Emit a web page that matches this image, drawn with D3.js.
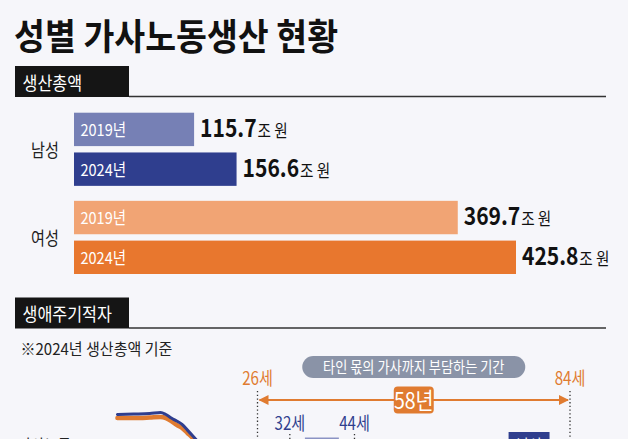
<!DOCTYPE html>
<html>
<head>
<meta charset="utf-8">
<script src="https://cdn.jsdelivr.net/npm/d3@7"></script>
<style>
  body { margin: 0; background: #f6f6fa; }
  text { font-family: "Noto Sans CJK KR", "Noto Sans", sans-serif; }
</style>
</head>
<body>
<svg id="chart"></svg>
<script>
// data
var genders = ["남성", "여성"];
var years = ["2019", "2024"];
var totals = {
    "남성": [115.7, 156.6],
    "여성": [369.7, 425.8]
};
var barColors = {
    "남성": ["#7680b5", "#2f3e8e"],
    "여성": ["#f1a474", "#e8772e"]
};
var ageRange = [26, 84];
var ageMarks = [32, 44];
var curveAges = [0, 3, 6, 8, 9, 10, 11, 12, 13, 14, 15];
var maleDeficit = [98.6, 99.0, 99.5, 100.5, 98.6, 95.3, 92.5, 89.3, 84.0, 78.5, 72.9];
var femaleDeficit = [95.3, 95.3, 95.8, 96.3, 95.3, 92.5, 88.8, 86.0, 81.3, 76.6, 71.0];

var width = 628, height = 439;
var svg = d3.select("#chart").attr("width", width).attr("height", height);

svg.append("rect").attr("width", width).attr("height", height).attr("fill", "#f6f6fa");

// text helper -- the source font is narrow, so squeeze horizontally
function label(sel, x, y, str, size, weight, fill, sx, anchor) {
    return sel.append("text")
        .attr("transform", "translate(" + x + "," + y + ") scale(" + sx + ",1)")
        .attr("font-size", size)
        .attr("font-weight", weight)
        .attr("fill", fill)
        .attr("text-anchor", anchor || "start")
        .text(str);
}

// title
label(svg, 14, 50, "성별 가사노동생산 현황", 36.5, 700, "#111", 0.92);

// section headers
function section(y, name) {
    svg.append("rect").attr("x", 15).attr("y", y).attr("width", 114).attr("height", 31).attr("fill", "#151515");
    svg.append("line").attr("x1", 129).attr("x2", 606).attr("y1", y + 30.5).attr("y2", y + 30.5)
        .attr("stroke", "#333").attr("stroke-width", 1.6);
    label(svg, 22.5, y + 23.5, name, 18, 400, "#fff", 0.9);
}
section(66, "생산총액");
section(297.5, "생애주기적자");

// bar chart
var x = d3.scaleLinear().domain([0, 425.8]).range([74, 516]);
var yGroup = d3.scaleBand().domain(genders).range([112.7, 274]).paddingInner(0.17);
var yYear = d3.scaleBand().domain(years).range([0, yGroup.bandwidth()]).paddingInner(0.16);

var bars = svg.append("g").attr("class", "bars");

genders.forEach(function(g) {
    var grp = bars.append("g").attr("transform", "translate(0," + yGroup(g) + ")");
    label(grp, 31, yGroup.bandwidth() / 2 + 7.5, g, 18.5, 400, "#222", 0.82);

    years.forEach(function(yr, i) {
        var v = totals[g][i];
        var by = yYear(yr);
        var bh = yYear.bandwidth();
        grp.append("rect")
            .attr("x", x(0)).attr("y", by)
            .attr("width", x(v) - x(0)).attr("height", bh)
            .attr("fill", barColors[g][i]);
        label(grp, x(0) + 6.5, by + bh / 2 + 6.5, yr + "년", 16.5, 400, "#fff", 0.88);

        var t = grp.append("text")
            .attr("transform", "translate(" + (x(v) + 6) + "," + (by + bh / 2 + 7.8) + ") scale(0.86,1)")
            .attr("fill", "#111");
        t.append("tspan").attr("font-size", 24.5).attr("font-weight", 700).text(v.toFixed(1));
        t.append("tspan").attr("font-size", 17).attr("font-weight", 400).attr("dx", 1).text("조 원");
    });
});

// life-cycle section
label(svg, 20.5, 355, "※2024년 생산총액 기준", 15.5, 400, "#222", 0.97);

var age = d3.scaleLinear().domain(ageRange).range([257.5, 570]);
var ageY = d3.scaleLinear().domain([0, 100]).range([520, 413]);

var orange = "#e07b30", navy = "#2f3e8e";

// pill
var pillX = (age(ageRange[0]) + age(ageRange[1])) / 2;
svg.append("rect").attr("x", pillX - 111.5).attr("y", 356).attr("width", 223).attr("height", 22)
    .attr("rx", 11).attr("fill", "#8a93a7");
label(svg, pillX, 372.5, "타인 몫의 가사까지 부담하는 기간", 15.5, 400, "#fff", 0.85, "middle");

// age range labels and dotted guides
ageRange.forEach(function(a) {
    label(svg, age(a), 385, a + "세", 18, 400, orange, 0.84, "middle");
    svg.append("line").attr("x1", age(a)).attr("x2", age(a)).attr("y1", 391).attr("y2", height)
        .attr("stroke", "#333").attr("stroke-width", 1.3).attr("stroke-dasharray", "1.3,2.4");
});

// arrow
var defs = svg.append("defs");
defs.append("marker").attr("id", "arrowEnd").attr("viewBox", "0 0 10 10").attr("refX", 9).attr("refY", 5)
    .attr("markerWidth", 5).attr("markerHeight", 5).attr("orient", "auto-start-reverse")
    .attr("markerUnits", "strokeWidth")
    .append("path").attr("d", "M0,0 L10,5 L0,10 z").attr("fill", orange);
svg.append("line")
    .attr("x1", age(ageRange[0]) + 2).attr("x2", age(ageRange[1]) - 2)
    .attr("y1", 400).attr("y2", 400)
    .attr("stroke", orange).attr("stroke-width", 2)
    .attr("marker-start", "url(#arrowEnd)").attr("marker-end", "url(#arrowEnd)");

svg.append("rect").attr("x", pillX - 20).attr("y", 386.5).attr("width", 40).attr("height", 27)
    .attr("rx", 4).attr("fill", orange);
label(svg, pillX, 409, (ageRange[1] - ageRange[0]) + "년", 23, 400, "#fff", 0.85, "middle");

// inner age marks
ageMarks.forEach(function(a) {
    label(svg, age(a), 430, a + "세", 18, 400, navy, 0.84, "middle");
    svg.append("line").attr("x1", age(a)).attr("x2", age(a)).attr("y1", 434).attr("y2", height)
        .attr("stroke", "#333").attr("stroke-width", 1.3).attr("stroke-dasharray", "1.3,2.4");
});

// partly visible boxes at the bottom edge
svg.append("rect").attr("x", age(34.8)).attr("y", 437.5).attr("width", age(41.1) - age(34.8)).attr("height", 12)
    .attr("fill", "#8b93c4");
svg.append("rect").attr("x", age(72.6)).attr("y", 432).attr("width", age(80.2) - age(72.6)).attr("height", 20)
    .attr("fill", navy);
label(svg, (age(72.6) + age(80.2)) / 2, 451, "남성", 16, 400, "#fff", 0.85, "middle");
label(svg, 18, 451, "가사노동", 16, 400, "#222", 0.9);

// deficit curves (only the top is in frame)
var line = d3.line()
    .x(function(d, i) { return age(curveAges[i]); })
    .y(function(d) { return ageY(d); })
    .curve(d3.curveMonotoneX);

svg.append("path").datum(femaleDeficit).attr("d", line)
    .attr("fill", "none").attr("stroke", orange).attr("stroke-width", 4.5).attr("stroke-linecap", "round");
svg.append("path").datum(maleDeficit).attr("d", line)
    .attr("fill", "none").attr("stroke", navy).attr("stroke-width", 3).attr("stroke-linecap", "round");
</script>
</body>
</html>
